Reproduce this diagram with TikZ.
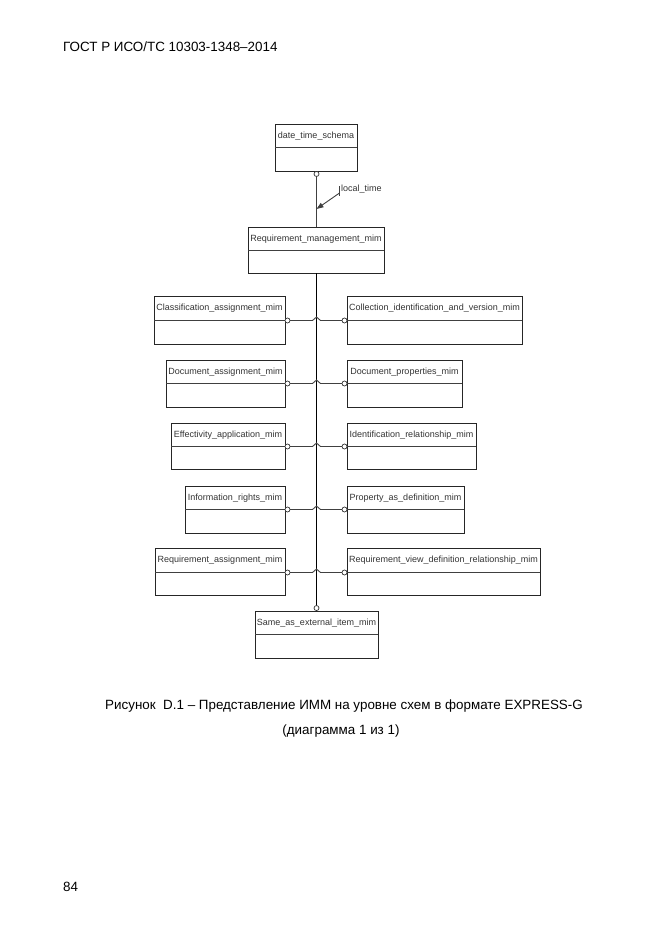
\documentclass[tikz,border=0pt]{standalone}
\usepackage{fontspec}
\setmainfont{Liberation Sans}
\usetikzlibrary{fit,arrows.meta,calc}
\tikzset{
  box/.style={draw=black!85, line width=0.9pt, inner sep=0pt},
  divl/.style={draw=black!75, line width=0.8pt},
  lbl/.style={font=\fontsize{9}{10}\selectfont, text=black!80, inner sep=0pt},
  conn/.style={draw=black!75, line width=0.9pt},
  trunk/.style={draw=black, line width=0.9pt},
  ring/.style={draw=black!80, line width=0.7pt, fill=white},
  pagetext/.style={font=\fontsize{13.4}{15}\selectfont, inner sep=0pt},
}
\newcommand\schbox[7]{%
  \node[box, fit={(#2,#4) (#3,#6)}] (#1) {};
  \draw[divl] (#2,#5) -- (#3,#5);
  \coordinate (#1-dl) at (#2,#5.5);
  \coordinate (#1-dr) at (#3,#5.5);
  \node[lbl] (#1-t) at ({(#2+#3)/2},{(#4+#5)/2+0.5}) {#7};
}
% left box, right box
\newcommand\hopconn[2]{%
  \draw[conn] ($(#1-dr)+(5,0)$) -- ($(tx |- #1-dr)+(-4,0)$)
     -- ++(4,-3.5) -- ++(4,3.5) -- ($(#2-dl)+(-5,0)$);
  \draw[ring] ($(#1-dr)+(2.5,0)$) circle (2.5);
  \draw[ring] ($(#2-dl)+(-2.5,0)$) circle (2.5);
}
\begin{document}
\begin{tikzpicture}[x=1pt,y=-1pt]
\useasboundingbox (0,0) rectangle (661,935);
\node[pagetext, anchor=west] (hdr) at (63,47) {ГОСТ Р ИСО/ТС 10303-1348–2014};
\node[pagetext, anchor=west] (pg) at (63,887) {84};
\node[pagetext, anchor=center] (cap1) at (344,706) {Рисунок\ \ D.1 – Представление ИММ на уровне схем в формате EXPRESS-G};
\node[pagetext, anchor=center] (cap2) at (341,731) {(диаграмма 1 из 1)};

\schbox{dts}{275}{357}{124}{147}{171}{date\_time\_schema}
\schbox{rmm}{248}{384}{227}{250}{273}{Requirement\_management\_mim}
\schbox{cls}{154}{285}{296}{320}{344}{Classification\_assignment\_mim}
\schbox{col}{347}{522}{296}{320}{344}{Collection\_identification\_and\_version\_mim}
\schbox{doa}{166}{285}{360}{383}{407}{Document\_assignment\_mim}
\schbox{dop}{347}{462}{360}{383}{407}{Document\_properties\_mim}
\schbox{eff}{171}{285}{423}{446}{469}{Effectivity\_application\_mim}
\schbox{idr}{347}{476}{423}{446}{469}{Identification\_relationship\_mim}
\schbox{inf}{185}{285}{486}{509}{533}{Information\_rights\_mim}
\schbox{pad}{347}{464}{486}{509}{533}{Property\_as\_definition\_mim}
\schbox{ras}{155}{285}{548}{572}{595}{Requirement\_assignment\_mim}
\schbox{rvd}{347}{540}{548}{572}{595}{Requirement\_view\_definition\_relationship\_mim}
\schbox{sae}{255}{378}{611}{634}{658}{Same\_as\_external\_item\_mim}

% top link
\coordinate (tx) at (316.5,0);
\draw[conn] ($(dts.south -| tx)+(0,5)$) -- (rmm.north -| tx);
\draw[ring] ($(dts.south -| tx)+(0,2.5)$) circle (2.5);
\coordinate (lt1) at (339.5,186);
\coordinate (lt2) at (339.5,196);
\draw[conn] (lt1) -- (lt2);
\coordinate (atip) at (316.5,209);
\draw[conn, -{Triangle[length=7pt,width=5pt]}] (339.5,193) -- (atip);
\node[lbl, anchor=west] (ltl) at (341,189) {local\_time};

% trunk
\draw[trunk] (rmm.south -| tx) -- ($(sae.north -| tx)+(0,-5)$);
\draw[ring] ($(sae.north -| tx)+(0,-2.5)$) circle (2.5);

\hopconn{cls}{col}
\hopconn{doa}{dop}
\hopconn{eff}{idr}
\hopconn{inf}{pad}
\hopconn{ras}{rvd}
\end{tikzpicture}
\end{document}
